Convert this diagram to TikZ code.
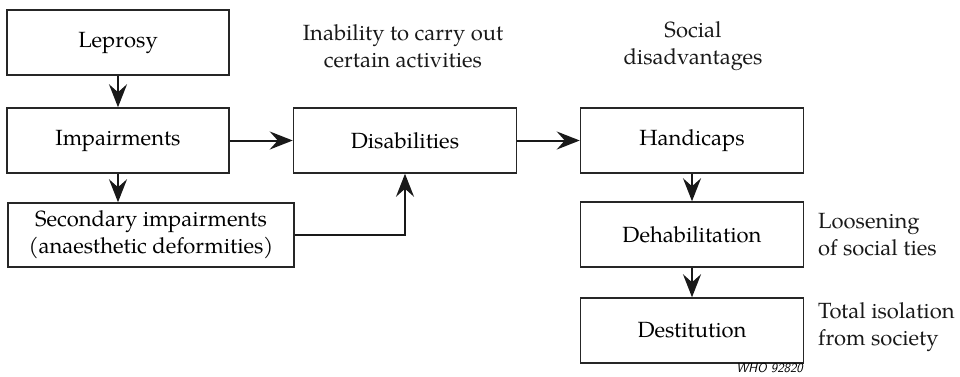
\documentclass[tikz,border=0pt]{standalone}
\usepackage{fontspec}
\setmainfont{TeX Gyre Pagella}
\usetikzlibrary{arrows.meta}
\begin{document}
\begin{tikzpicture}[x=1pt,y=-1pt,
  box/.style={draw=black!85,line width=1.5pt,rectangle,inner sep=0pt,font=\fontsize{22}{27}\selectfont,align=center},
  conn/.style={draw=black!90,line width=2pt,-{Stealth[length=23pt,width=18pt,inset=8pt]}},
  lbl/.style={inner sep=0pt,font=\fontsize{22}{27}\selectfont,text=black!90}]
\useasboundingbox (0,0) rectangle (960,376);
\node[box,minimum width=222pt,minimum height=65pt] (lep) at (118,42.5) {Leprosy};
\node[box,minimum width=222pt,minimum height=65pt] (imp) at (118,140.5) {Impairments};
\node[box,minimum width=286pt,minimum height=64pt] (sec) at (151,235) {Secondary impairments\\(anaesthetic deformities)};
\node[box,minimum width=223pt,minimum height=65pt] (dis) at (405,140.5) {Disabilities};
\node[box,minimum width=223pt,minimum height=65pt] (han) at (692,140.5) {Handicaps};
\node[box,minimum width=223pt,minimum height=65pt] (deh) at (692,234.5) {Dehabilitation};
\node[box,minimum width=223pt,minimum height=65pt] (des) at (692,330.5) {Destitution};
\node[lbl,align=center] (inab) at (403,46) {Inability to carry out\\certain activities};
\node[lbl,align=center] (soc) at (693,46) {Social\\disadvantages};
\node[lbl,align=left,anchor=west] (loos) at (818,235) {Loosening\\of social ties};
\node[lbl,align=left,anchor=west] (tot) at (818,327) {Total isolation\\from society};
\node[inner sep=0pt,anchor=east,font=\fontsize{13}{14}\selectfont\sffamily\itshape] (who) at (803,368) {WHO 92820};
\draw[conn] (lep.south) -- (imp.north);
\draw[conn] (imp.south) -- (imp.south |- sec.north);
\draw[conn] (imp.east) -- (dis.west);
\draw[conn] (dis.east) -- (han.west);
\draw[conn] (sec.east) -| (dis.south);
\draw[conn] (han.south) -- (deh.north);
\draw[conn] (deh.south) -- (des.north);
\end{tikzpicture}
\end{document}
